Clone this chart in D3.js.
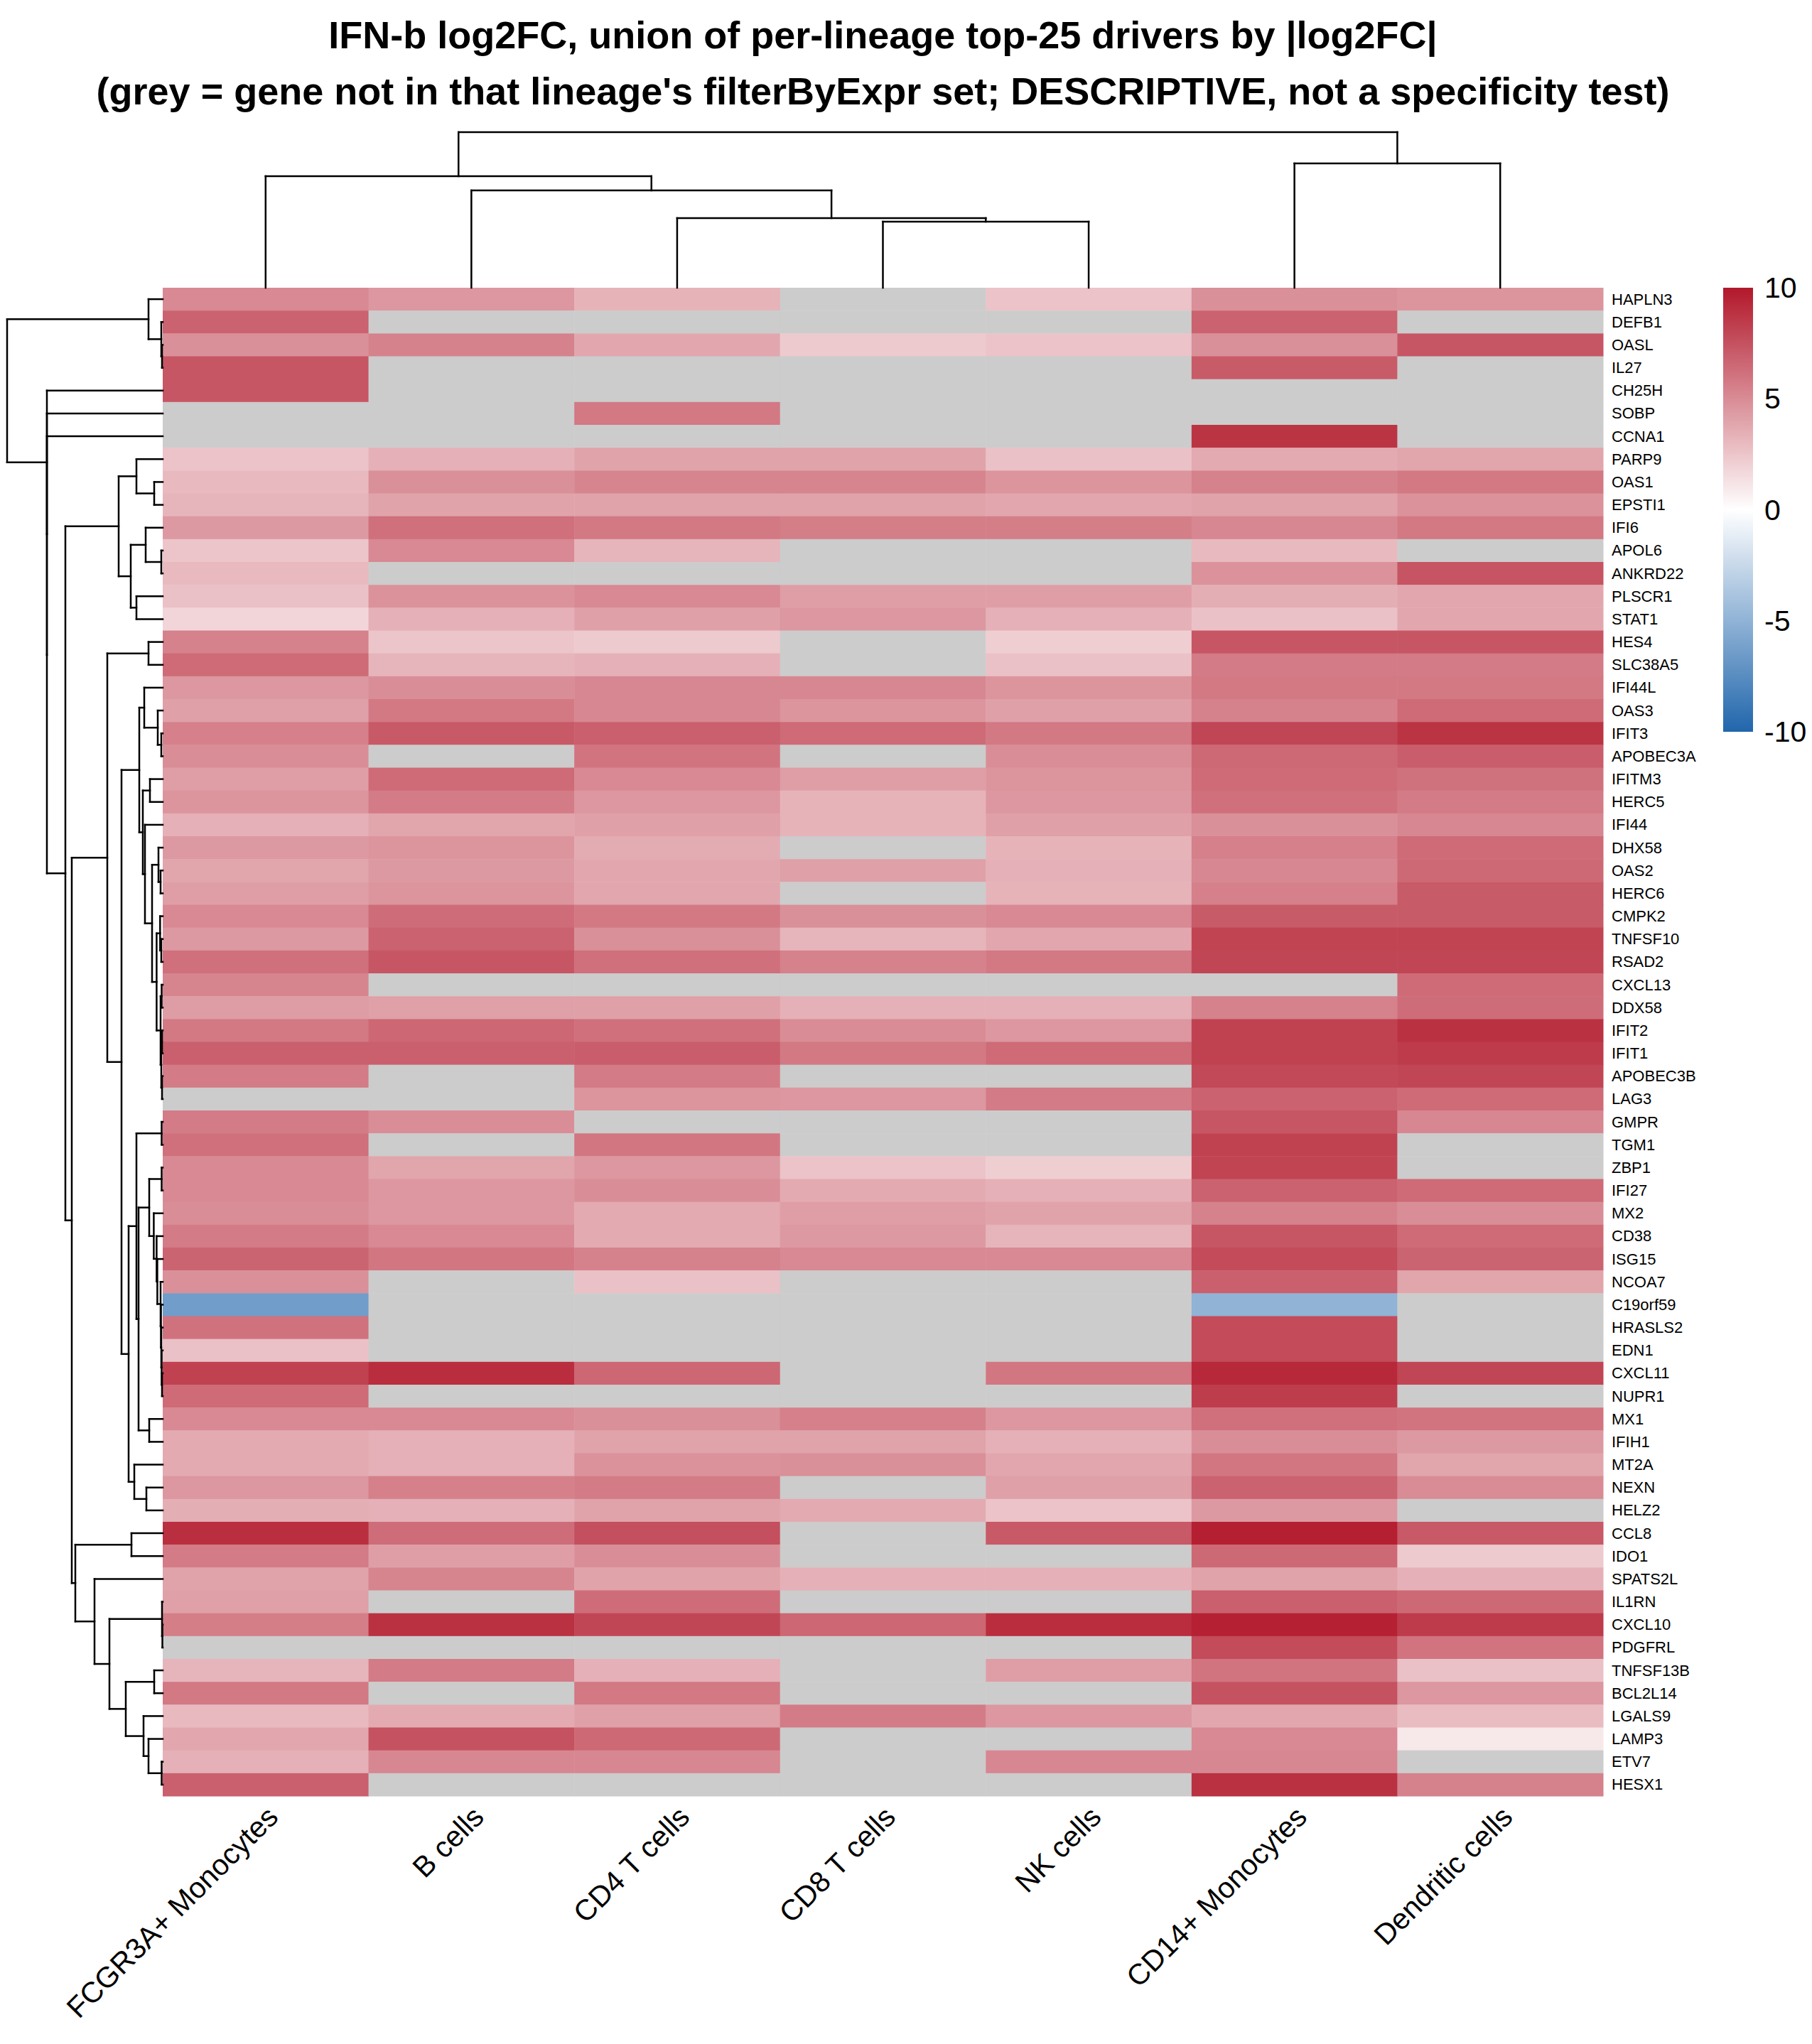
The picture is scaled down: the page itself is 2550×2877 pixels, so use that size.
<!DOCTYPE html>
<html>
<head>
<meta charset="utf-8">
<script src="https://cdn.jsdelivr.net/npm/d3@7"></script>
<style>
  body { margin: 0; background: #fff; }
  svg { display: block; font-family: "Liberation Sans", Arial, Helvetica, sans-serif; }
</style>
</head>
<body>
<svg id="chart"></svg>
<script>
const titleLines = [
  "IFN-b log2FC, union of per-lineage top-25 drivers by |log2FC|",
  "(grey = gene not in that lineage's filterByExpr set; DESCRIPTIVE, not a specificity test)"
];

const lineages = ["FCGR3A+ Monocytes", "B cells", "CD4 T cells", "CD8 T cells", "NK cells", "CD14+ Monocytes", "Dendritic cells"];

const genes = ["HAPLN3","DEFB1","OASL","IL27","CH25H","SOBP","CCNA1","PARP9","OAS1","EPSTI1",
  "IFI6","APOL6","ANKRD22","PLSCR1","STAT1","HES4","SLC38A5","IFI44L","OAS3","IFIT3",
  "APOBEC3A","IFITM3","HERC5","IFI44","DHX58","OAS2","HERC6","CMPK2","TNFSF10","RSAD2",
  "CXCL13","DDX58","IFIT2","IFIT1","APOBEC3B","LAG3","GMPR","TGM1","ZBP1","IFI27",
  "MX2","CD38","ISG15","NCOA7","C19orf59","HRASLS2","EDN1","CXCL11","NUPR1","MX1",
  "IFIH1","MT2A","NEXN","HELZ2","CCL8","IDO1","SPATS2L","IL1RN","CXCL10","PDGFRL",
  "TNFSF13B","BCL2L14","LGALS9","LAMP3","ETV7","HESX1"];

// log2FC per lineage, same order as genes; null = not in filterByExpr set (grey)
const fcgr3aMono = [5.1,6.8,4.8,7.3,7.3,null,null,2.6,3.0,3.2, 4.4,2.5,3.0,2.7,1.8,5.4,6.4,4.5,4.1,5.5,
  4.9,4.2,4.6,3.4,4.4,3.9,4.2,5.1,4.4,6.2, 5.3,4.3,5.8,6.9,5.7,null,5.7,6.2,5.1,5.1,
  4.9,5.7,6.7,4.8,-6.4,6.1,2.7,8.2,6.4,5.1, 3.7,3.7,4.5,3.5,9.0,5.7,4.0,4.1,5.6,null, 3.2,5.8,3.0,3.8,3.4,6.9];
const bCells = [4.5,null,5.4,null,null,null,null,3.4,4.8,4.0, 6.2,5.1,null,4.7,3.4,2.5,3.2,4.9,5.8,7.2,
  null,6.4,5.7,3.9,4.6,4.4,4.6,6.3,6.8,7.3, null,4.1,6.6,6.9,null,null,4.9,null,3.9,4.5,
  4.5,5.1,5.9,null,null,null,null,9.1,null,5.1, 3.4,3.4,5.5,3.4,6.3,4.2,5.3,null,8.9,null, 5.7,null,3.7,7.5,5.2,null];
const cd4T = [3.3,null,3.8,null,null,5.8,null,4.0,5.3,4.0, 5.8,3.2,null,5.1,4.1,2.3,3.4,5.2,5.2,6.9,
  6.0,5.1,4.5,4.1,3.6,3.8,3.8,5.8,4.8,6.2, null,4.1,6.2,7.0,5.7,4.6,null,5.9,4.5,4.9,
  3.7,3.7,5.4,2.7,null,null,null,6.6,null,4.8, 4.0,4.7,5.7,4.0,7.6,4.9,4.0,6.3,8.0,null, 3.4,5.8,4.1,6.5,5.2,null];
const cd8T = [null,null,2.3,null,null,null,null,4.0,5.3,4.0, 5.6,null,null,4.2,4.5,null,null,5.2,4.6,6.4,
  null,4.2,3.3,3.3,null,4.1,null,4.8,3.2,5.4, null,3.4,5.0,5.8,null,4.5,null,null,2.6,3.7,
  4.2,4.4,5.1,null,null,null,null,null,null,5.5, 4.0,4.8,null,3.7,null,null,3.4,null,6.6,null, null,null,5.7,null,null,null];
const nkCells = [2.6,null,2.6,null,null,null,null,2.7,4.6,3.8, 5.6,null,null,4.2,3.4,2.1,2.7,4.6,4.1,5.8,
  4.9,4.6,4.5,4.1,3.3,3.4,3.3,5.1,3.8,5.8, null,3.4,4.5,6.4,null,5.7,null,null,2.1,3.4,
  4.0,3.2,5.1,null,null,null,null,5.9,null,4.5, 3.4,3.8,4.1,2.6,7.2,null,3.4,null,9.1,null, 4.2,null,4.5,null,5.2,null];
const cd14Mono = [4.8,6.8,4.8,7.1,null,null,8.8,3.7,5.4,4.0, 5.2,3.0,4.7,3.5,2.7,7.3,5.7,5.8,5.4,8.0,
  6.5,6.4,6.2,4.8,5.5,5.2,5.5,7.1,8.1,8.0, null,5.4,8.2,8.2,7.9,6.8,7.3,8.2,8.1,6.8,
  5.4,7.3,7.8,6.9,-5.0,7.8,7.8,9.3,8.4,6.2, 4.9,5.9,6.8,4.4,9.7,6.5,4.0,6.9,9.6,7.8, 6.0,7.5,3.8,5.1,5.2,8.9];
const dendritic = [4.6,null,7.3,null,null,null,null,3.9,5.8,4.7, 5.8,null,7.4,3.8,3.8,7.3,5.7,5.8,6.4,8.8,
  7.0,6.1,5.7,5.2,6.4,6.5,7.1,7.1,8.1,8.0, 6.4,6.3,8.9,8.5,8.0,6.4,5.2,null,null,6.4,
  4.9,6.4,6.7,3.9,null,null,null,8.0,null,6.0, 4.4,3.9,5.0,null,7.2,2.3,3.4,6.5,8.5,6.0, 2.7,4.5,2.9,1.0,null,5.4];

const lineageValues = [fcgr3aMono, bCells, cd4T, cd8T, nkCells, cd14Mono, dendritic];

// dendrograms as [mergeHeight, left, right]
const colTree = [219,
  [157, "FCGR3A+ Monocytes", [137, "B cells", [98, "CD4 T cells", [93, "CD8 T cells", "NK cells"]]]],
  [175, "CD14+ Monocytes", "Dendritic cells"]];

const rowTree = [219,
  [20, "HAPLN3", [2, "DEFB1", [1, "OASL", "IL27"]]],
  [163, "CH25H", [163, "SOBP", [163, "CCNA1",
    [137,
      [62,
        [37, "PARP9", [12, "OAS1", "EPSTI1"]],
        [45, [24, "IFI6", [2, "APOL6", "ANKRD22"]], [37, "PLSCR1", "STAT1"]]],
      [128,
        [78,
          [20, "HES4", "SLC38A5"],
          [58,
            [33,
              [26, "IFI44L", [7, "OAS3", [2, "IFIT3", "APOBEC3A"]]],
              [28,
                [18, "IFITM3", "HERC5"],
                [25, "IFI44",
                  [15,
                    [6, "DHX58", [3, "OAS2", "HERC6"]],
                    [8.6,
                      [3.7, "CMPK2", [2, "TNFSF10", "RSAD2"]],
                      [3, [1.5, "CXCL13", "DDX58"], [2, [1, "IFIT2", "IFIT1"], [1, "APOBEC3B", "LAG3"]]]]]]]],
            [48,
              [37,
                [1.5, "GMPR", "TGM1"],
                [34,
                  [19,
                    [1.5, "ZBP1", "IFI27"],
                    [12.6, "MX2", [8.6, "CD38", [7.6, "ISG15", [3, "NCOA7",
                      [2.5, "C19orf59", [2, "HRASLS2", [1.5, "EDN1", [1, "CXCL11", "NUPR1"]]]]]]]]],
                  [19, "MX1", "IFIH1"]]],
              [40, "MT2A", [23, "NEXN", "HELZ2"]]]]],
        [123,
          [44, "CCL8", "IDO1"],
          [96, "SPATS2L",
            [75,
              [1, "IL1RN", [0.5, "CXCL10", "PDGFRL"]],
              [52,
                [12, "TNFSF13B", "BCL2L14"],
                [27, "LGALS9", [20, "LAMP3", [1.5, "ETV7", "HESX1"]]]]]]]]]]]]];

const legendTicks = [10, 5, 0, -5, -10];

const width = 2550, height = 2877;
const hm = { left: 229, right: 2256, top: 405, bottom: 2528 };
const dendroSize = 219;

const svg = d3.select("#chart").attr("width", width).attr("height", height);
svg.append("rect").attr("width", width).attr("height", height).attr("fill", "#fff");

const x = d3.scaleBand().domain(lineages).range([hm.left, hm.right]);
const y = d3.scaleBand().domain(genes).range([hm.top, hm.bottom]);
const color = d3.scaleLinear()
  .domain([-10, 0, 10])
  .range(["#2166AC", "#FFFFFF", "#B2182B"])
  .clamp(true);

// heatmap cells
const cells = [];
lineages.forEach((l, j) => genes.forEach((g, i) => cells.push({ l, g, v: lineageValues[j][i] })));

svg.append("g").selectAll("rect")
  .data(cells)
  .join("rect")
  .attr("x", d => x(d.l))
  .attr("y", d => y(d.g))
  .attr("width", x.bandwidth() + 0.5)
  .attr("height", y.bandwidth() + 0.5)
  .attr("fill", d => d.v == null ? "#CCCCCC" : color(d.v));

// dendrogram segments: node pos = midpoint of children (as hclust plots it)
function dendroSegments(tree, leafPos) {
  const segs = [];
  function walk(node) {
    if (typeof node === "string") return { pos: leafPos(node), h: 0 };
    const [h, a, b] = node;
    const ca = walk(a), cb = walk(b);
    segs.push({ p0: ca.pos, p1: ca.pos, h0: ca.h, h1: h });
    segs.push({ p0: cb.pos, p1: cb.pos, h0: cb.h, h1: h });
    segs.push({ p0: ca.pos, p1: cb.pos, h0: h, h1: h });
    return { pos: (ca.pos + cb.pos) / 2, h };
  }
  walk(tree);
  return segs;
}

const colH = d3.scaleLinear().domain([0, colTree[0]]).range([hm.top, hm.top - dendroSize]);
const colSegs = dendroSegments(colTree, n => x(n) + x.bandwidth() / 2);
svg.append("g").selectAll("line")
  .data(colSegs)
  .join("line")
  .attr("x1", d => d.p0).attr("x2", d => d.p1)
  .attr("y1", d => colH(d.h0)).attr("y2", d => colH(d.h1))
  .attr("stroke", "#000").attr("stroke-width", 2.5).attr("stroke-linecap", "square");

const rowH = d3.scaleLinear().domain([0, rowTree[0]]).range([hm.left, hm.left - dendroSize]);
const rowSegs = dendroSegments(rowTree, n => y(n) + y.bandwidth() / 2);
svg.append("g").selectAll("line")
  .data(rowSegs)
  .join("line")
  .attr("y1", d => d.p0).attr("y2", d => d.p1)
  .attr("x1", d => rowH(d.h0)).attr("x2", d => rowH(d.h1))
  .attr("stroke", "#000").attr("stroke-width", 2.5).attr("stroke-linecap", "square");

// row labels
svg.append("g").selectAll("text")
  .data(genes)
  .join("text")
  .attr("x", hm.right + 12)
  .attr("y", d => y(d) + y.bandwidth() / 2)
  .attr("dominant-baseline", "central")
  .attr("font-size", 22)
  .text(d => d);

// column labels, rotated 45
svg.append("g").selectAll("text")
  .data(lineages)
  .join("text")
  .attr("transform", d => `translate(${x(d) + x.bandwidth() / 2 + 10},${hm.bottom + 22}) rotate(-45)`)
  .attr("text-anchor", "end")
  .attr("dominant-baseline", "central")
  .attr("font-size", 41)
  .text(d => d);

// title
svg.append("g").selectAll("text")
  .data(titleLines)
  .join("text")
  .attr("x", (hm.left + hm.right) / 2)
  .attr("y", (d, i) => 68 + i * 79)
  .attr("text-anchor", "middle")
  .attr("font-size", 54)
  .attr("font-weight", "bold")
  .text(d => d);

// colour legend (stops listed top = 10 to bottom = -10)
const leg = { x: 2425, w: 42, top: 405, bottom: 1030 };
const legY = d3.scaleLinear().domain([10, -10]).range([leg.top, leg.bottom]);
const grad = svg.append("defs").append("linearGradient")
  .attr("id", "lfc").attr("x1", 0).attr("y1", 0).attr("x2", 0).attr("y2", 1);
d3.range(10, -10.01, -1).forEach(v => {
  grad.append("stop").attr("offset", (10 - v) / 20).attr("stop-color", color(v));
});
svg.append("rect")
  .attr("x", leg.x).attr("y", leg.top)
  .attr("width", leg.w).attr("height", leg.bottom - leg.top)
  .attr("fill", "url(#lfc)");
svg.append("g").selectAll("text")
  .data(legendTicks)
  .join("text")
  .attr("x", leg.x + leg.w + 16)
  .attr("y", d => legY(d))
  .attr("dominant-baseline", "central")
  .attr("font-size", 41)
  .text(d => d);
</script>
</body>
</html>
